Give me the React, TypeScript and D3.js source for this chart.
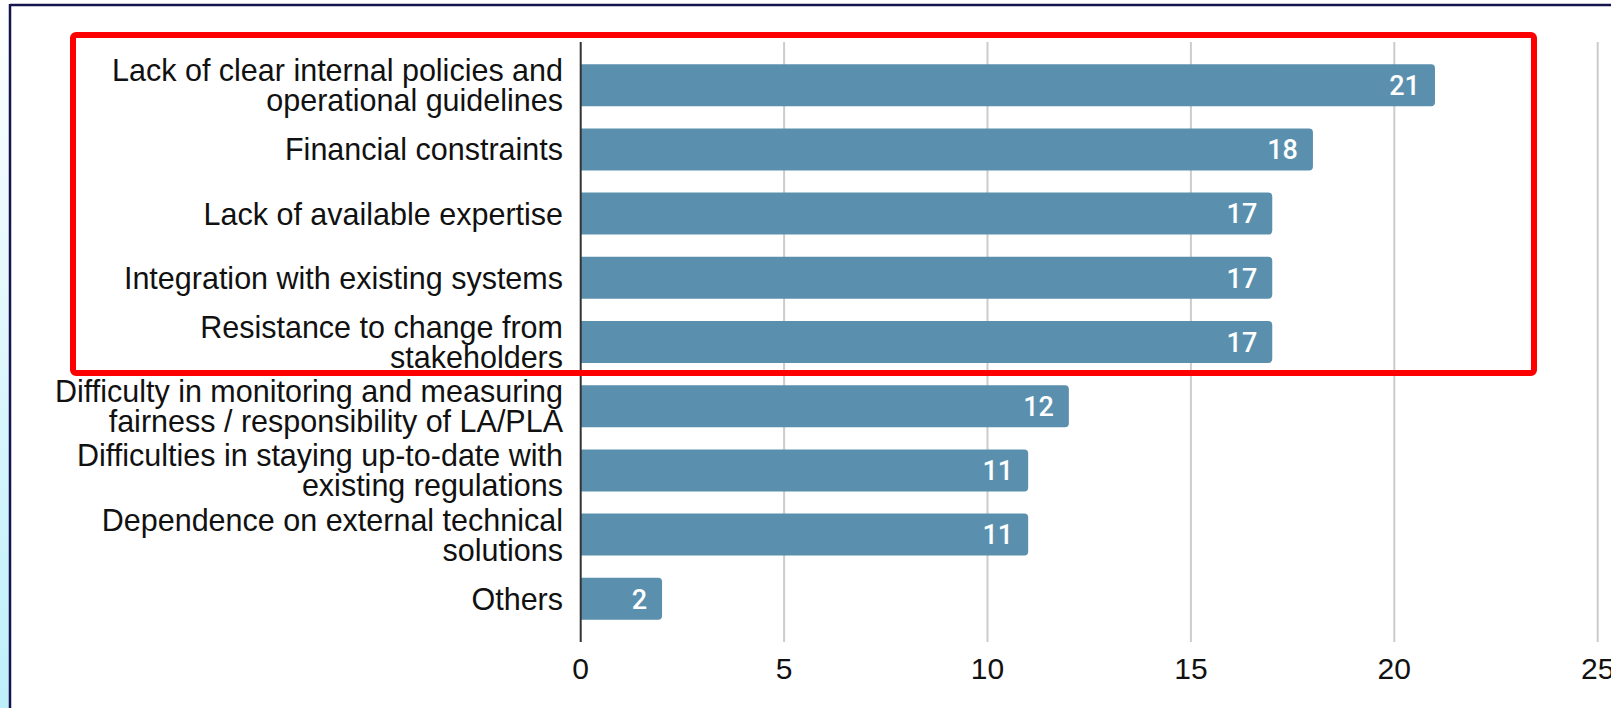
import React from "react";
import * as d3 from "d3";

const categories: string[][] = [
  ["Lack of clear internal policies and", "operational guidelines"],
  ["Financial constraints"],
  ["Lack of available expertise"],
  ["Integration with existing systems"],
  ["Resistance to change from", "stakeholders"],
  ["Difficulty in monitoring and measuring", "fairness / responsibility of LA/PLA"],
  ["Difficulties in staying up-to-date with", "existing regulations"],
  ["Dependence on external technical", "solutions"],
  ["Others"],
];
const values: number[] = [21, 18, 17, 17, 17, 12, 11, 11, 2];
const xTicks: number[] = [0, 5, 10, 15, 20, 25];

const W = 1611;
const H = 708;
const X0 = 580.7;
const X1 = 1597.7;
const Y0 = 42;
const Y1 = 642;
const BAR = "#5a90ae";
const LABEL_FONT = "'Liberation Sans', Arial, Helvetica, sans-serif";

export default function App() {
  const x = d3.scaleLinear().domain([0, 25]).range([X0, X1]);
  const y = d3
    .scaleBand<number>()
    .domain(values.map((_, i) => i))
    .range([Y0, Y1])
    .paddingInner(0.346)
    .paddingOuter(0.346);
  const bw = y.bandwidth();
  const r = 4;

  const barPath = (v: number, i: number) => {
    const x0 = x(0);
    const x1 = x(v);
    const y0 = y(i)!;
    const y1 = y0 + bw;
    return `M${x0},${y0}H${x1 - r}Q${x1},${y0} ${x1},${y0 + r}V${y1 - r}Q${x1},${y1} ${x1 - r},${y1}H${x0}Z`;
  };

  return (
    <svg
      width={W}
      height={H}
      style={{ position: "absolute", left: 0, top: 0, display: "block" }}
    >
      <defs>
        <linearGradient id="strip" x1="0" y1="0" x2="0" y2="1">
          <stop offset="0" stopColor="#ffffff" />
          <stop offset="1" stopColor="#bdeffb" />
        </linearGradient>
      </defs>
      <rect x={0} y={0} width={W} height={H} fill="#ffffff" />
      <rect x={0} y={0} width={9} height={H} fill="url(#strip)" />
      <line x1={10} y1={5} x2={W} y2={5} stroke="#15144f" strokeWidth={2.5} />
      <line x1={10} y1={4} x2={10} y2={H} stroke="#15144f" strokeWidth={2.5} />

      {xTicks.map((t) =>
        t === 0 ? null : (
          <line
            key={"g" + t}
            x1={x(t)}
            x2={x(t)}
            y1={Y0}
            y2={Y1}
            stroke="#cccccc"
            strokeWidth={2}
          />
        )
      )}

      {values.map((v, i) => (
        <path key={"b" + i} d={barPath(v, i)} fill={BAR} />
      ))}

      <line x1={x(0)} x2={x(0)} y1={Y0} y2={Y1} stroke="#333333" strokeWidth={2} />

      {values.map((v, i) => (
        <text
          key={"v" + i}
          x={x(v) - 15}
          y={y(i)! + bw / 2}
          dy="0.36em"
          textAnchor="end"
          fill="#ffffff"
          fontFamily="Roboto, sans-serif"
          fontWeight={500}
          fontSize={27}
        >
          {v}
        </text>
      ))}

      {categories.map((lines, i) => {
        const cy = y(i)! + bw / 2;
        const lh = 30;
        const start = cy - ((lines.length - 1) * lh) / 2;
        return (
          <text
            key={"c" + i}
            textAnchor="end"
            fontFamily={LABEL_FONT}
            fontSize={30.5}
            fill="#111111"
          >
            {lines.map((ln, j) => (
              <tspan key={j} x={563} y={start + j * lh} dy="0.36em">
                {ln}
              </tspan>
            ))}
          </text>
        );
      })}

      {xTicks.map((t) => (
        <text
          key={"t" + t}
          x={x(t)}
          y={668}
          dy="0.36em"
          textAnchor="middle"
          fontFamily={LABEL_FONT}
          fontSize={30}
          fill="#111111"
        >
          {t}
        </text>
      ))}

      <rect
        x={73}
        y={35}
        width={1534 - 73}
        height={373 - 35}
        rx={3}
        fill="none"
        stroke="#ff0000"
        strokeWidth={6}
      />
    </svg>
  );
}
